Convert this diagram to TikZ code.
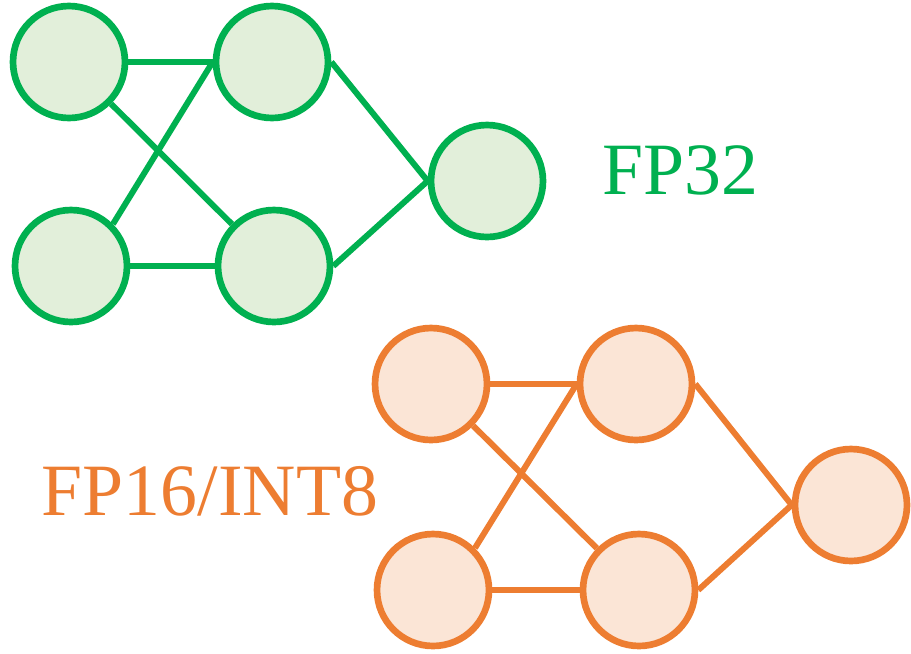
\documentclass[tikz,border=0pt]{standalone}
\usepackage{fontspec}
\setmainfont{Liberation Serif}
\usepackage{tikz}
\usetikzlibrary{positioning}
\definecolor{fpgreen}{HTML}{00B050}
\definecolor{fpgreenfill}{HTML}{E2EFDA}
\definecolor{fporange}{HTML}{ED7D31}
\definecolor{fporangefill}{HTML}{FBE5D6}

\begin{document}
\begin{tikzpicture}[
  x=0.02cm, y=-0.02cm,
  neuron/.style={circle, draw, line width=3.8pt, minimum size=2.24cm, inner sep=0pt},
  gneuron/.style={neuron, draw=fpgreen, fill=fpgreenfill},
  oneuron/.style={neuron, draw=fporange, fill=fporangefill},
  glink/.style={draw=fpgreen, line width=3.4pt},
  olink/.style={draw=fporange, line width=3.4pt},
  tag/.style={inner sep=0pt, font=\fontsize{42}{46}\selectfont}
]
\useasboundingbox (0,0) rectangle (911,653);
% FP32 network
\node[gneuron] (g1) at (69,62) {};
\node[gneuron] (g2) at (272,62) {};
\node[gneuron] (g3) at (71,266) {};
\node[gneuron] (g4) at (274,266) {};
\node[gneuron] (g5) at (487,181) {};
\node[tag, text=fpgreen] (gl) at (680,170) {FP32};

\draw[glink] (g1) -- (g2); \draw[glink] (g3) -- (g4); \draw[glink] (g1) -- (g4);
\draw[glink] (g3.45) -- (g2.west); \draw[glink] (g2.east) -- (g5.west); \draw[glink] (g4.east) -- (g5.west);

% FP16/INT8 network
\node[oneuron] (o1) at (431,384) {};
\node[oneuron] (o2) at (636,384) {};
\node[oneuron] (o3) at (433,590) {};
\node[oneuron] (o4) at (639,590) {};
\node[oneuron] (o5) at (851,505) {};
\node[tag, text=fporange] (ol) at (210,491) {FP16/INT8};

\draw[olink] (o1) -- (o2); \draw[olink] (o3) -- (o4); \draw[olink] (o1) -- (o4);
\draw[olink] (o3.45) -- (o2.west); \draw[olink] (o2.east) -- (o5.west); \draw[olink] (o4.east) -- (o5.west);
\end{tikzpicture}
\end{document}
